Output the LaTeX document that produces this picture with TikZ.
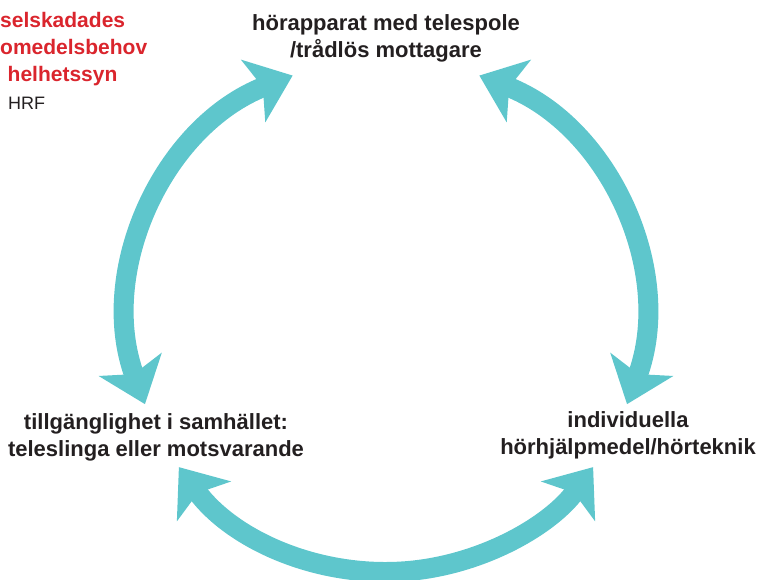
\documentclass[tikz,border=0pt]{standalone}
\usepackage{fontspec}
\setmainfont{Liberation Sans}
\usepackage{xcolor}
\usetikzlibrary{positioning, arrows.meta}
\definecolor{hrfteal}{RGB}{94,198,204}
\definecolor{hrfred}{RGB}{218,37,45}
\definecolor{hrfink}{RGB}{35,31,32}

\begin{document}
\begin{tikzpicture}[x=1pt, y=1pt, >={Stealth[length=42pt, width=66pt, inset=10pt]},
    lbl/.style={align=center, text=hrfink, inner sep=0pt, font=\fontsize{22}{27}\selectfont\bfseries},
    rubrik/.style={anchor=base west, inner sep=0pt, text=hrfred, font=\fontsize{21}{25}\selectfont\bfseries},
    kalla/.style={anchor=base west, inner sep=0pt, text=hrfink, font=\fontsize{18}{22}\selectfont},
    cyc/.style={draw=hrfteal, line width=20pt, <->}]
    \useasboundingbox (0,0) rectangle (758,580);

    % title, cut off at the left edge
    \node[rubrik] (r1) at (0,552) {selskadades};
    \node[rubrik] (r2) at (0,525) {omedelsbehov};
    \node[rubrik] (r3) at (7.5,498) {helhetssyn};
    \node[kalla] (src) at (8,470) {HRF};

    % the three corners
    \node[lbl] (top) at (386,542) {hörapparat med telespole\\/trådlös mottagare};
    \node[lbl] (left) at (156,143) {tillgänglighet i samhället:\\teleslinga eller motsvarande};
    \node[lbl] (right) at (628,145) {individuella\\hörhjälpmedel/hörteknik};

    % circle of arrows
    \coordinate (c) at (386,265);
    \foreach \a/\n in {111.3/lt, 68.7/rt, 339.7/rs, 323.7/rb, 216.3/lb, 200.3/ls}
      \path (c) ++(\a:257) coordinate (\n);
    \draw[cyc] (ls) arc[start angle=200.3, end angle=111.3, radius=257];
    \draw[cyc] (rt) arc[start angle=68.7, end angle=-20.3, radius=257];
    \draw[cyc] (lb) arc[start angle=216.3, end angle=323.7, radius=257];
\end{tikzpicture}
\end{document}
